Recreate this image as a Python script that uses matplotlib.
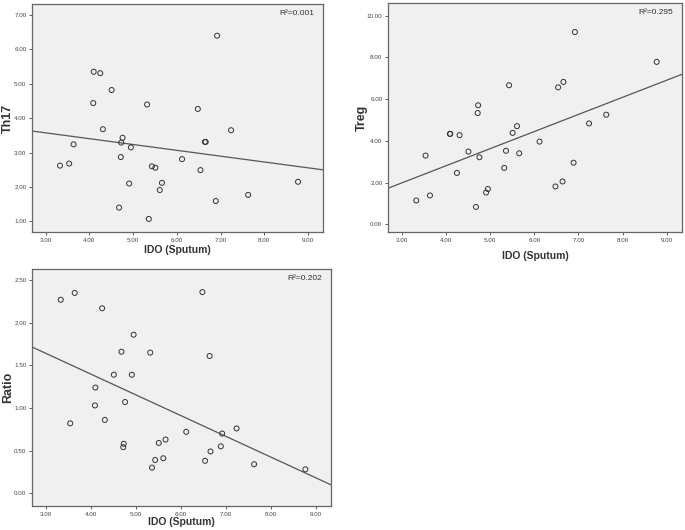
import numpy as np
import matplotlib
matplotlib.use('Agg')
import matplotlib.pyplot as plt

plt.rcParams['font.family'] = ['Liberation Sans', 'DejaVu Sans']

# IDO (Sputum) per subject
ido = [3.33, 3.54, 3.64, 4.09, 4.10, 4.25, 4.31, 4.51, 4.68, 4.72,
       4.73, 4.76, 4.91, 4.95, 5.32, 5.36, 5.43, 5.51, 5.61, 5.66,
       6.12, 6.48, 6.54, 6.64, 6.66, 6.89, 6.92, 7.24, 7.63, 8.77]
th17 = [2.62, 2.68, 3.24, 4.44, 5.35, 5.31, 3.68, 4.82, 1.40, 2.87,
        3.29, 3.43, 2.10, 3.15, 4.40, 1.07, 2.60, 2.56, 1.91, 2.12,
        2.81, 4.27, 2.49, 3.31, 3.31, 1.59, 6.40, 3.65, 1.77, 2.15]
treg = [1.14, 3.29, 1.38, 4.33, 4.33, 2.46, 4.27, 3.48, 0.83, 5.33,
        5.70, 3.21, 1.52, 1.69, 2.70, 3.52, 6.66, 4.38, 4.70, 3.40,
        3.96, 1.81, 6.56, 2.05, 6.82, 2.95, 9.21, 4.83, 5.25, 7.78]
ratio = [2.27, 0.82, 2.35, 1.03, 1.24, 2.17, 0.86, 1.39, 1.66, 0.54,
         0.58, 1.07, 1.39, 1.86, 1.65, 0.30, 0.39, 0.59, 0.41, 0.63,
         0.72, 2.36, 0.38, 1.61, 0.49, 0.55, 0.70, 0.76, 0.34, 0.28]

r2_labels = ['R\u00b2=0.001', 'R\u00b2=0.295', 'R\u00b2=0.202']
x_ticks = [3, 4, 5, 6, 7, 8, 9]

fig = plt.figure(figsize=(6.85, 5.30), dpi=100)

panels = [
    # rect, y values, ylabel, ylim, yticks, r2, ylabel x, xlabel y
    ([0.0467, 0.5623, 0.4248, 0.430], th17, 'Th17', (0.69, 7.32),
     [1, 2, 3, 4, 5, 6, 7], r2_labels[0], -0.082, -0.079),
    ([0.5664, 0.5623, 0.4290, 0.432], treg, 'Treg', (-0.37, 10.6),
     [0, 2, 4, 6, 8, 10], r2_labels[1], -0.088, -0.105),
    ([0.0467, 0.0453, 0.4365, 0.447], ratio, 'Ratio', (-0.15, 2.63),
     [0, 0.5, 1.0, 1.5, 2.0, 2.5], r2_labels[2], -0.08, -0.068),
]

for rect, yvals, ylab, ylim, yticks, r2, ylx, xly in panels:
    ax = fig.add_axes(rect)
    ax.set_facecolor('#f0f0f0')
    x = np.array(ido)
    y = np.array(yvals)
    ax.scatter(x, y, s=13, facecolors='none', edgecolors='#333333', linewidths=0.7, zorder=3)

    # least squares fit line
    slope, intercept = np.polyfit(x, y, 1)
    xl = np.array([2.69, 9.34])
    ax.plot(xl, intercept + slope * xl, color='#555555', linewidth=0.9, zorder=2)

    ax.set_xlim(2.69, 9.34)
    ax.set_ylim(*ylim)
    ax.set_xticks(x_ticks)
    ax.set_xticklabels([f'{v:.2f}' for v in x_ticks])
    ax.set_yticks(yticks)
    ax.set_yticklabels([f'{v:.2f}' for v in yticks])
    ax.tick_params(labelsize=4.5, colors='#444444', length=2.5, width=0.6, pad=1.5)
    for sp in ax.spines.values():
        sp.set_color('#666666')
        sp.set_linewidth(0.9)

    ax.set_xlabel('IDO (Sputum)', fontsize=7.5, fontweight='bold', color='#333333')
    ax.set_ylabel(ylab, fontsize=9, fontweight='bold', color='#333333')
    ax.xaxis.set_label_coords(0.5, xly)
    ax.yaxis.set_label_coords(ylx, 0.5)
    ax.xaxis.label.set_va('center')
    ax.yaxis.label.set_va('center')
    ax.text(0.97, 0.975, r2, transform=ax.transAxes, ha='right', va='top',
            fontsize=6, color='#333333')

fig.savefig('out.png', dpi=100)
